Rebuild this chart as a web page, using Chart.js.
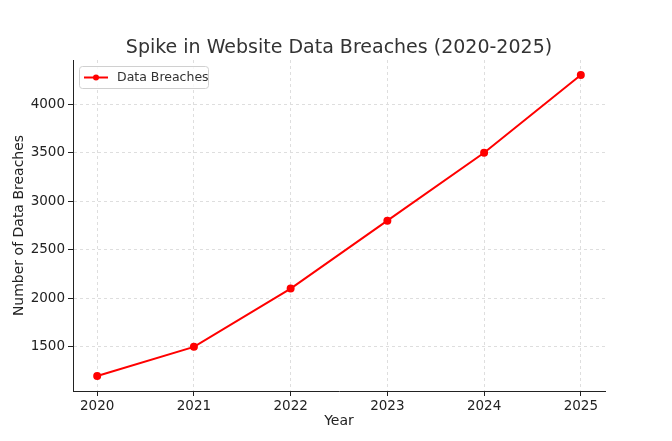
<!DOCTYPE html>
<html><head><script src="https://cdn.jsdelivr.net/npm/chart.js"></script>
<style>html,body{margin:0;padding:0;background:#fff}#w{width:672px;height:441px}</style></head>
<body><div id="w"><canvas id="c"></canvas></div>
<script>
const years = [2020, 2021, 2022, 2023, 2024, 2025];
const breaches = [1200, 1500, 2100, 2800, 3500, 4300];
const seriesName = 'Data Breaches';
const titleText = 'Spike in Website Data Breaches (2020-2025)';
const xTitle = 'Year';
const yTitle = 'Number of Data Breaches';
const font = 'DejaVu Sans';
const textPlugin = {
  id: 'tx',
  afterDraw(ch) {
    const c = ch.ctx, a = ch.chartArea;
    c.save();
    c.textAlign = 'center'; c.textBaseline = 'middle';
    c.fillStyle = '#333'; c.font = '19px ' + font;
    c.fillText(titleText, (a.left + a.right) / 2, 48);
    c.fillStyle = '#222'; c.font = '14px ' + font;
    c.fillText(xTitle, (a.left + a.right) / 2, 421);
    c.save(); c.translate(19, (a.top + a.bottom) / 2); c.rotate(-Math.PI / 2);
    c.fillText(yTitle, 0, 0); c.restore();
    // legend
    const x = a.left + 6, y = a.top + 6;
    c.fillStyle = 'rgba(255,255,255,0.8)'; c.strokeStyle = '#d0d0d0'; c.lineWidth = 1;
    c.beginPath(); c.roundRect(x + 0.5, y + 0.5, 129, 22, 3); c.fill(); c.stroke();
    c.strokeStyle = 'red'; c.lineWidth = 2;
    c.beginPath(); c.moveTo(x + 5, y + 11.5); c.lineTo(x + 29, y + 11.5); c.stroke();
    c.fillStyle = 'red'; c.beginPath(); c.arc(x + 17, y + 11.5, 3, 0, Math.PI * 2); c.fill();
    c.fillStyle = '#333'; c.font = '12.5px ' + font; c.textAlign = 'left';
    c.fillText(seriesName, x + 38, y + 12);
    c.restore();
  }
};
new Chart(document.getElementById('c'), {
  type: 'line',
  data: { datasets: [{ label: seriesName, data: years.map((v, i) => ({ x: v, y: breaches[i] })),
    borderColor: 'red', backgroundColor: 'red', borderWidth: 2, pointRadius: 3, pointHoverRadius: 3, tension: 0 }] },
  options: {
    responsive: true, maintainAspectRatio: false, animation: false,
    layout: { padding: { left: 0, right: 67, top: 60, bottom: 0 } },
    plugins: { legend: { display: false }, tooltip: { enabled: false }, title: { display: false } },
    scales: {
      x: { type: 'linear', min: 2019.75, max: 2025.25,
        afterBuildTicks: s => { s.ticks = years.map(v => ({ value: v })); },
        afterFit: s => { s.height = 50; },
        ticks: { callback: v => String(v), color: '#222', font: { family: font, size: 13.5 }, padding: 2, maxRotation: 0 },
        grid: { color: '#dedede', tickColor: '#222', tickLength: 5 },
        border: { color: '#222', dash: [3, 3] } },
      y: { min: 1045, max: 4455,
        afterBuildTicks: s => { s.ticks = [1500, 2000, 2500, 3000, 3500, 4000].map(v => ({ value: v })); },
        afterFit: s => { s.width = 73; },
        ticks: { callback: v => String(v), color: '#222', font: { family: font, size: 13.5 }, padding: 3 },
        grid: { color: '#dedede', tickColor: '#222', tickLength: 5 },
        border: { color: '#222', dash: [3, 3] } }
    }
  },
  plugins: [textPlugin]
});
</script></body></html>
